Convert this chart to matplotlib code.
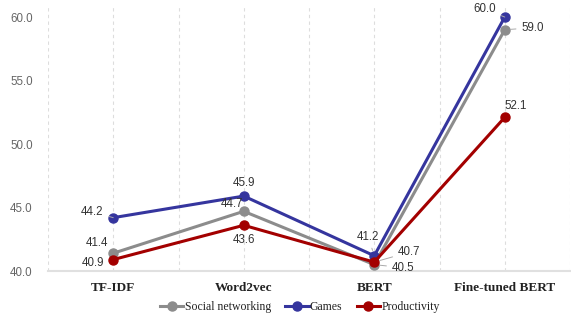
import matplotlib
matplotlib.use("Agg")
import matplotlib.pyplot as plt

categories = ["TF-IDF", "Word2vec", "BERT", "Fine-tuned BERT"]
series_names = ["Social networking", "Games", "Productivity"]
social = [41.4, 44.7, 40.5, 59.0]
games = [44.2, 45.9, 41.2, 60.0]
productivity = [40.9, 43.6, 40.7, 52.1]
yticks = [40.0, 45.0, 50.0, 55.0, 60.0]

colors = ["#8c8c8c", "#35359e", "#a30000"]
values = [social, games, productivity]

# label offsets in pixels (dx, dy, ha, leader)
offsets = {
    "Social networking": [(-16, 10, "center", False), (-12, 7, "center", False), (29, -3, "center", True), (28, 2, "center", True)],
    "Games": [(-21, 6, "center", True), (0, 13, "center", False), (-6, 19, "center", True), (-20, 8, "center", True)],
    "Productivity": [(-20, -3, "center", False), (0, -15, "center", False), (35, 10, "center", True), (11, 11, "center", False)],
}

fig = plt.figure(figsize=(5.71, 3.2), dpi=100)
ax = fig.add_axes([48/571, 49/320, 522/571, 266/320])
x = list(range(len(categories)))

for i in range(3):
    ax.plot(x, values[i], color=colors[i], lw=2.2, marker="o", ms=6.5, label=series_names[i], zorder=3)

for i in range(3):
    name = series_names[i]
    for j, v in enumerate(values[i]):
        dx, dy, ha, leader = offsets[name][j]
        ap = dict(arrowstyle="-", color="#aaaaaa", lw=0.7, shrinkA=2, shrinkB=4) if leader else None
        ax.annotate(f"{v:.1f}", (j, v), xytext=(dx, dy), textcoords="offset pixels",
                    ha=ha, va="center", fontsize=8.3, color="#333333",
                    family="Liberation Sans", arrowprops=ap, zorder=4)

ax.set_xlim(-0.5, 3.5)
ax.set_ylim(40, 60.95)
ax.set_yticks(yticks)
ax.set_yticklabels([f"{t:.1f}" for t in yticks], family="Liberation Sans", fontsize=8.3, color="#666666")
ax.set_xticks(x)
ax.set_xticklabels(categories, family="Liberation Serif", fontweight="bold", fontsize=9.5, color="#222222")
ax.tick_params(axis="both", length=0)
ax.tick_params(axis="y", pad=11)
ax.tick_params(axis="x", pad=8)

for xv in [-0.5, 0, 0.5, 1, 1.5, 2, 2.5, 3, 3.5]:
    ax.axvline(xv, color="#dddddd", lw=0.8, ls=(0, (3, 3)), zorder=0)

for s in ["top", "right", "left"]:
    ax.spines[s].set_visible(False)
ax.spines["bottom"].set_color("#e0e0e0")
ax.spines["bottom"].set_linewidth(1.5)

handles, labels = ax.get_legend_handles_labels()
leg = fig.legend(handles, labels, loc="center", bbox_to_anchor=(0.525, 0.04), ncol=3, frameon=False,
                 prop={"family": "Liberation Serif", "size": 8.5}, handlelength=2.0, handletextpad=0.1,
                 columnspacing=1.2)
for t in leg.get_texts():
    t.set_color("#222222")

fig.savefig("out.png", dpi=100)
